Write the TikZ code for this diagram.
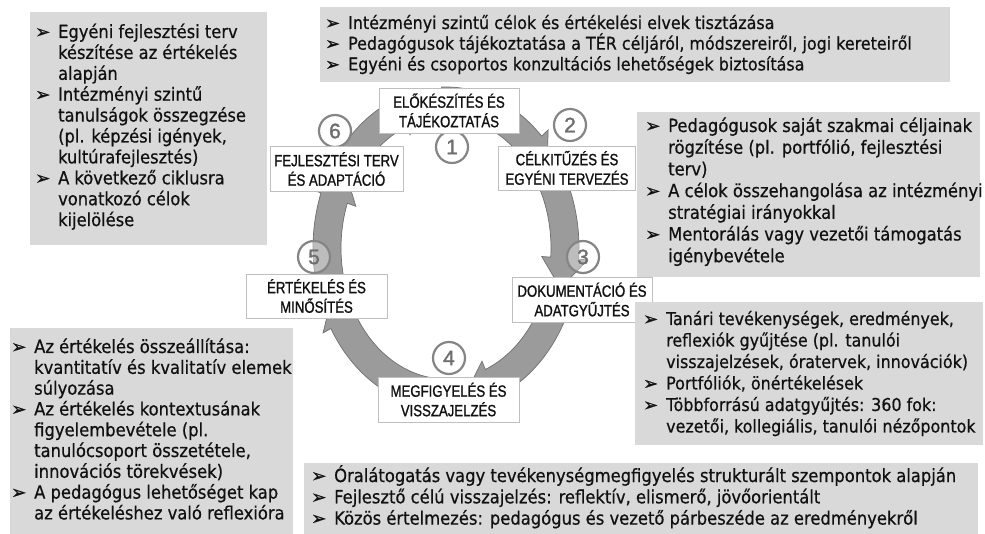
\documentclass[tikz,border=0pt]{standalone}
\usepackage{fontspec}
\setmainfont{DejaVu Sans Condensed}[FakeBold=0.6]
\newfontfamily\lblfont[FakeStretch=0.81,FakeBold=1.2]{Liberation Sans}
\newfontfamily\numfont[FakeBold=1.5]{Liberation Sans}
\newfontfamily\bulfont[FakeBold=1]{DejaVu Sans}
\usetikzlibrary{calc}
\definecolor{boxgray}{HTML}{D9D9D9}
\definecolor{ringgray}{HTML}{9B9B9B}
\definecolor{ringedge}{HTML}{6F6F6F}
\definecolor{lblborder}{HTML}{BFBFBF}
\definecolor{numgray}{HTML}{6E6E6E}
\definecolor{numring}{HTML}{858585}
\definecolor{txt}{HTML}{111111}
\newcommand\bl{\makebox[23pt][l]{\bulfont\char"27A2}}
\newcommand\ind{\hspace*{23pt}}
\newcommand\ringarrow[3]{%
  \fill[ringgray, draw=ringedge, line width=0.7pt]
    plot[domain=#1:#2, samples=40, variable=\t] ({446+133*cos(\t)},{248+161*sin(\t)})
    -- ({446+142*cos(#2)},{248+170*sin(#2)})
    -- ({446+119*cos(#3)},{248+146*sin(#3)})
    -- ({446+96*cos(#2)},{248+122*sin(#2)})
    -- plot[domain=#2:#1, samples=40, variable=\t] ({446+105*cos(\t)},{248+131*sin(\t)})
    -- cycle;}
\tikzset{
  graybox/.style={fill=boxgray, draw=none, inner sep=0pt, anchor=north west},
  bodytext/.style={anchor=base west, inner sep=0pt, text=txt},
  lbl/.style={fill=white, draw=lblborder, line width=0.7pt, align=center, inner sep=0pt,
    text=txt, font=\lblfont\fontsize{16.3}{19.5}\selectfont},
  numc/.style={circle, draw=numring, line width=2.2pt, fill=white, fill opacity=0.35, text opacity=1,
    minimum size=32pt, inner sep=0pt, text=numgray, font=\numfont\fontsize{21}{21}\selectfont},
}
\begin{document}
\begin{tikzpicture}[x=1pt,y=-1pt]
\useasboundingbox (0,0) rectangle (985,534);

% ring arrows (clockwise)
\ringarrow{268}{316}{328}
\ringarrow{332}{364}{376}
\ringarrow{20}{68}{80}
\ringarrow{92}{150}{162}
\ringarrow{168}{200}{212}
\ringarrow{214}{248}{260}

% number circles
\node[numc] (n1) at (452,147) {1};
\node[numc] (n2) at (570,125) {2};
\node[numc] (n3) at (583,257) {3};
\node[numc] (n4) at (449,358) {4};
\node[numc] (n5) at (314,257) {5};
\node[numc] (n6) at (335,131) {6};

% stage labels
\node[lbl, minimum width=140pt, minimum height=45pt] (l1) at (449,110.5) {ELŐKÉSZÍTÉS ÉS\\TÁJÉKOZTATÁS};
\node[lbl, minimum width=137pt, minimum height=44pt] (l2) at (567,168) {CÉLKITŰZÉS ÉS\\EGYÉNI TERVEZÉS};
\node[lbl, minimum width=140pt, minimum height=45pt] (l3) at (582,299.5) {DOKUMENTÁCIÓ ÉS\\ADATGYŰJTÉS};
\node[lbl, minimum width=141pt, minimum height=45pt] (l4) at (448.5,399.5) {MEGFIGYELÉS ÉS\\VISSZAJELZÉS};
\node[lbl, minimum width=141pt, minimum height=44pt] (l5) at (316.5,296) {ÉRTÉKELÉS ÉS\\MINŐSÍTÉS};
\node[lbl, minimum width=133pt, minimum height=45pt] (l6) at (336.5,169) {FEJLESZTÉSI TERV\\ÉS ADAPTÁCIÓ};

% gray boxes
\node[graybox, minimum width=237pt, minimum height=233pt] (btl) at (30,12) {};
\node[graybox, minimum width=630pt, minimum height=75pt] (btop) at (320,7) {};
\node[graybox, minimum width=343pt, minimum height=165pt] (bru) at (637,112) {};
\node[graybox, minimum width=348pt, minimum height=143pt] (brl) at (635,302) {};
\node[graybox, minimum width=283pt, minimum height=206pt] (bbl) at (10,328) {};
\node[graybox, minimum width=674pt, minimum height=71pt] (bbot) at (304,463) {};

% texts
\node[bodytext] (ttl) at (35,38) {\parbox[t]{240pt}{\fontsize{18.1}{20.9}\selectfont\raggedright
\bl Egyéni fejlesztési terv\\
\ind készítése az értékelés\\
\ind alapján\\
\bl Intézményi szintű\\
\ind tanulságok összegzése\\
\ind (pl. képzési igények,\\
\ind kultúrafejlesztés)\\
\bl A következő ciklusra\\
\ind vonatkozó célok\\
\ind kijelölése}};

\node[bodytext] (ttop) at (325,29) {\parbox[t]{640pt}{\fontsize{17.7}{20.7}\selectfont\raggedright
\bl Intézményi szintű célok és értékelési elvek tisztázása\\
\bl Pedagógusok tájékoztatása a TÉR céljáról, módszereiről, jogi kereteiről\\
\bl Egyéni és csoportos konzultációs lehetőségek biztosítása}};

\node[bodytext] (tru) at (645,132) {\parbox[t]{345pt}{\fontsize{18.2}{21.7}\selectfont\raggedright
\bl Pedagógusok saját szakmai céljainak\\
\ind rögzítése (pl. portfólió, fejlesztési\\
\ind terv)\\
\bl A célok összehangolása az intézményi\\
\ind stratégiai irányokkal\\
\bl Mentorálás vagy vezetői támogatás\\
\ind igénybevétele}};

\node[bodytext] (trl) at (643,325) {\parbox[t]{345pt}{\fontsize{17.7}{21.5}\selectfont\raggedright
\bl Tanári tevékenységek, eredmények,\\
\ind reflexiók gyűjtése (pl. tanulói\\
\ind visszajelzések, óratervek, innovációk)\\
\bl Portfóliók, önértékelések\\
\bl Többforrású adatgyűjtés: 360 fok:\\
\ind vezetői, kollegiális, tanulói nézőpontok}};

\node[bodytext] (tbl) at (11,353) {\parbox[t]{290pt}{\fontsize{18.2}{20.8}\selectfont\raggedright
\bl Az értékelés összeállítása:\\
\ind kvantitatív és kvalitatív elemek\\
\ind súlyozása\\
\bl Az értékelés kontextusának\\
\ind figyelembevétele (pl.\\
\ind tanulócsoport összetétele,\\
\ind innovációs törekvések)\\
\bl A pedagógus lehetőséget kap\\
\ind az értékeléshez való reflexióra}};

\node[bodytext] (tbot) at (311,482) {\parbox[t]{680pt}{\fontsize{18.2}{21.3}\selectfont\raggedright
\bl Óralátogatás vagy tevékenységmegfigyelés strukturált szempontok alapján\\
\bl Fejlesztő célú visszajelzés: reflektív, elismerő, jövőorientált\\
\bl Közös értelmezés: pedagógus és vezető párbeszéde az eredményekről}};
\end{tikzpicture}
\end{document}
